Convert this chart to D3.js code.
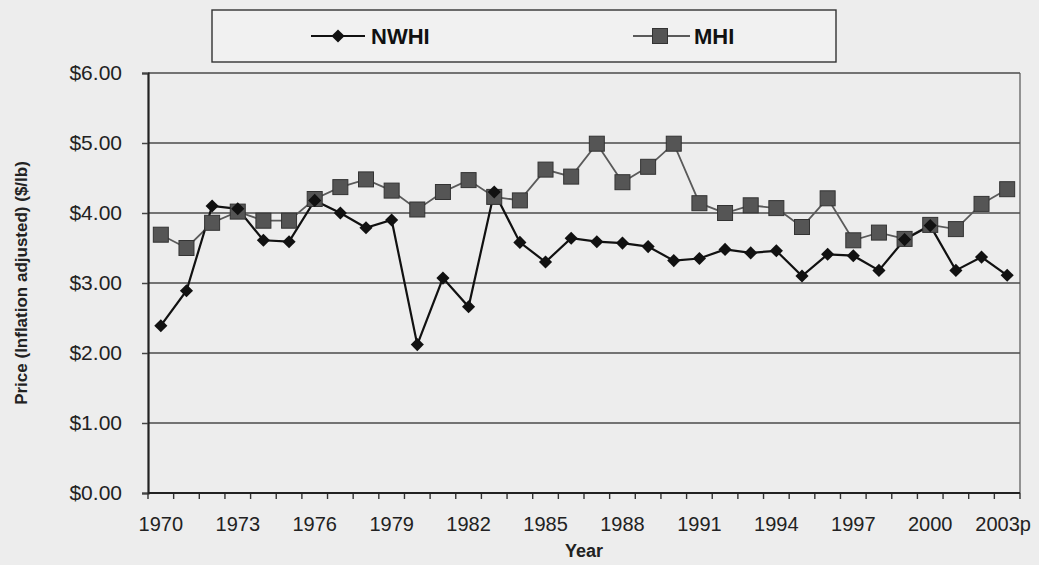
<!DOCTYPE html>
<html>
<head>
<meta charset="utf-8">
<script src="https://cdn.jsdelivr.net/npm/d3@7"></script>
<style>
  html, body { margin: 0; padding: 0; background: #ededed; }
  svg { display: block; }
</style>
</head>
<body>
<svg id="chart" width="1039" height="565"></svg>
<script>
const years = [1970,1971,1972,1973,1974,1975,1976,1977,1978,1979,1980,1981,1982,1983,1984,1985,1986,1987,1988,1989,1990,1991,1992,1993,1994,1995,1996,1997,1998,1999,2000,2001,2002,2003];
const nwhi = [2.39,2.89,4.10,4.06,3.61,3.59,4.18,4.00,3.79,3.90,2.12,3.07,2.66,4.30,3.58,3.30,3.64,3.59,3.57,3.52,3.32,3.35,3.48,3.43,3.46,3.10,3.41,3.39,3.18,3.62,3.82,3.18,3.37,3.11];
const mhi  = [3.69,3.50,3.86,4.02,3.89,3.89,4.20,4.37,4.48,4.32,4.05,4.30,4.47,4.23,4.18,4.62,4.52,4.99,4.44,4.66,4.99,4.14,4.00,4.11,4.07,3.80,4.21,3.61,3.72,3.63,3.83,3.77,4.13,4.34];
const yTicks = [0,1,2,3,4,5,6];
const xLabelYears = [1970,1973,1976,1979,1982,1985,1988,1991,1994,1997,2000,2003];
const xLabelText = ["1970","1973","1976","1979","1982","1985","1988","1991","1994","1997","2000","2003p"];
const seriesNames = ["NWHI","MHI"];

const svg = d3.select("#chart");
const pL = 148, pR = 1020, pT = 73, pB = 493;
const FONT = "Liberation Sans, Arial, sans-serif";

const x = d3.scaleBand().domain(years).range([pL, pR]).padding(0);
const y = d3.scaleLinear().domain([0, 6]).range([pB, pT]);
const cx = d => x(d) + x.bandwidth() / 2;

svg.append("rect").attr("x", 0).attr("y", 0).attr("width", 1039).attr("height", 565).attr("fill", "#ededed");

// gridlines
svg.append("g").selectAll("line").data(yTicks.filter(d => d > 0)).join("line")
  .attr("x1", pL).attr("x2", pR)
  .attr("y1", d => y(d)).attr("y2", d => y(d))
  .attr("stroke", "#4a4a4a").attr("stroke-width", 1.6);

// right border
svg.append("line").attr("x1", pR).attr("x2", pR).attr("y1", pT).attr("y2", pB)
  .attr("stroke", "#555").attr("stroke-width", 1.2);

// y axis
const yAxis = svg.append("g").attr("transform", `translate(${pL},0)`)
  .call(d3.axisLeft(y).tickValues(yTicks).tickFormat(d => "$" + d.toFixed(2)).tickSize(6).tickPadding(20));
yAxis.select(".domain").attr("stroke", "#222").attr("stroke-width", 2.2);
yAxis.selectAll(".tick line").attr("stroke", "#444").attr("stroke-width", 1.5);
yAxis.selectAll("text").attr("font-family", FONT).attr("font-size", 21).attr("fill", "#222");

// x axis: ticks at band boundaries
const bounds = years.map(d => x(d)).concat([pR]);
svg.append("g").selectAll("line").data(bounds).join("line")
  .attr("x1", d => d).attr("x2", d => d).attr("y1", pB).attr("y2", pB + 6)
  .attr("stroke", "#333").attr("stroke-width", 1.4);
svg.append("line").attr("x1", pL).attr("x2", pR).attr("y1", pB).attr("y2", pB)
  .attr("stroke", "#222").attr("stroke-width", 2.2);
const xAxis = svg.append("g").attr("transform", `translate(0,${pB})`)
  .call(d3.axisBottom(x).tickValues(xLabelYears).tickSize(0).tickPadding(24)
    .tickFormat(d => xLabelText[xLabelYears.indexOf(d)]));
xAxis.select(".domain").remove();
xAxis.selectAll("text").attr("font-family", FONT).attr("font-size", 20).attr("fill", "#222");
xAxis.selectAll(".tick").filter(d => d === 2003).select("text").attr("dx", "-0.2em");

// axis titles
svg.append("text").attr("x", (pL + pR) / 2).attr("y", 557).attr("text-anchor", "middle")
  .attr("font-family", FONT).attr("font-weight", "bold").attr("font-size", 18).attr("fill", "#222")
  .text("Year");
svg.append("text").attr("transform", `translate(27,${(pT + pB) / 2}) rotate(-90)`).attr("text-anchor", "middle")
  .attr("font-family", FONT).attr("font-weight", "bold").attr("font-size", 17).attr("fill", "#222")
  .text("Price (Inflation adjusted) ($/lb)");

// lines
const line = d3.line().x((d, i) => cx(years[i])).y(d => y(d));
svg.append("path").datum(mhi).attr("d", line).attr("fill", "none").attr("stroke", "#5a5a5a").attr("stroke-width", 1.8);
svg.append("path").datum(nwhi).attr("d", line).attr("fill", "none").attr("stroke", "#111").attr("stroke-width", 2.2);

// markers
const sq = 15;
svg.append("g").selectAll("rect").data(mhi).join("rect")
  .attr("x", (d, i) => cx(years[i]) - sq / 2).attr("y", d => y(d) - sq / 2)
  .attr("width", sq).attr("height", sq)
  .attr("fill", "#555").attr("stroke", "#333").attr("stroke-width", 1);
const diamond = d3.symbol().type(d3.symbolDiamond2).size(110);
svg.append("g").selectAll("path").data(nwhi).join("path")
  .attr("transform", (d, i) => `translate(${cx(years[i])},${y(d)})`)
  .attr("d", diamond).attr("fill", "#111");

// legend
const lg = svg.append("g");
lg.append("rect").attr("x", 212).attr("y", 10).attr("width", 624).attr("height", 52)
  .attr("fill", "#f1f1f1").attr("stroke", "#333").attr("stroke-width", 1.4);
const ly = 36;
lg.append("line").attr("x1", 311).attr("x2", 365).attr("y1", ly).attr("y2", ly).attr("stroke", "#111").attr("stroke-width", 2.2);
lg.append("path").attr("transform", `translate(338,${ly})`).attr("d", diamond).attr("fill", "#111");
lg.append("text").attr("x", 371).attr("y", ly + 8).attr("font-family", FONT)
  .attr("font-weight", "bold").attr("font-size", 22).attr("fill", "#111").text(seriesNames[0]);
lg.append("line").attr("x1", 633).attr("x2", 690).attr("y1", ly).attr("y2", ly).attr("stroke", "#5a5a5a").attr("stroke-width", 1.8);
lg.append("rect").attr("x", 660 - sq / 2).attr("y", ly - sq / 2).attr("width", sq).attr("height", sq)
  .attr("fill", "#555").attr("stroke", "#333").attr("stroke-width", 1);
lg.append("text").attr("x", 694).attr("y", ly + 8).attr("font-family", FONT)
  .attr("font-weight", "bold").attr("font-size", 22).attr("fill", "#111").text(seriesNames[1]);
</script>
</body>
</html>
